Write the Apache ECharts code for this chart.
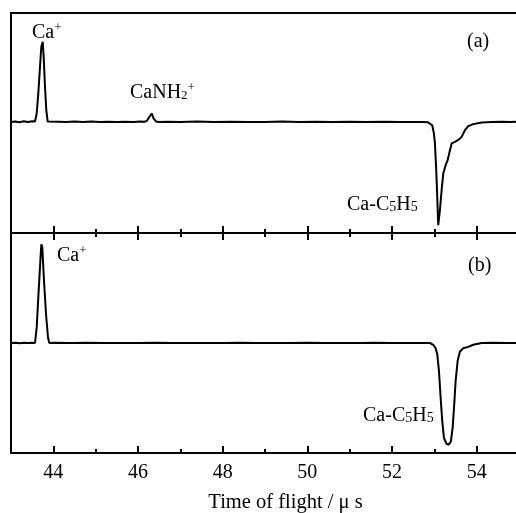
<!DOCTYPE html>
<html>
<head>
<meta charset="utf-8">
<script src="https://cdn.jsdelivr.net/npm/echarts@6/dist/echarts.min.js"></script>
<style>
html,body{margin:0;padding:0;background:#fff;}
#chart{width:516px;height:513px;}
</style>
</head>
<body>
<div id="chart"></div>
<script>
// Panel (a): time of flight (µs) and signal (arb. units)
const timeA = [43.00,43.10,43.20,43.30,43.40,43.50,43.567,43.607,43.645,43.685,43.716,43.749,43.772,43.803,43.834,43.866,43.90,44.10,44.30,44.50,44.70,44.90,45.10,45.30,45.50,45.70,45.90,46.05,46.15,46.205,46.26,46.323,46.37,46.425,46.50,46.70,47.00,47.40,47.80,48.20,48.60,49.00,49.40,49.80,50.20,50.60,51.00,51.40,51.80,52.20,52.50,52.70,52.85,52.896,52.950,52.990,53.014,53.045,53.069,53.092,53.132,53.172,53.211,53.267,53.314,53.369,53.409,53.447,53.487,53.527,53.581,53.644,53.723,53.801,53.919,54.117,54.353,54.60,54.80,55.00];
const signalA = [0.000,0.004,-0.003,0.005,0.000,0.006,0.004,0.076,0.256,0.496,0.676,0.721,0.586,0.316,0.106,0.004,0.000,0.002,0.000,0.004,-0.002,0.003,0.000,0.002,-0.002,0.002,0.000,0.003,0.002,0.008,0.040,0.076,0.030,0.004,0.000,0.002,0.000,0.003,0.000,0.002,-0.002,0.000,0.003,0.000,0.002,0.000,0.001,0.000,0.002,0.000,-0.001,0.000,-0.004,-0.012,-0.030,-0.104,-0.194,-0.435,-0.675,-0.930,-0.795,-0.615,-0.465,-0.390,-0.345,-0.255,-0.194,-0.210,-0.180,-0.194,-0.158,-0.135,-0.075,-0.038,-0.020,-0.005,0.000,0.002,0.000,0.001];

// Panel (b)
const timeB = [43.00,43.10,43.20,43.30,43.40,43.50,43.567,43.607,43.645,43.685,43.716,43.739,43.779,43.827,43.874,43.905,44.00,44.40,44.80,45.20,45.60,46.00,46.40,46.80,47.20,47.60,48.00,48.40,48.80,49.20,49.60,50.00,50.40,50.80,51.20,51.60,52.00,52.40,52.70,52.896,52.974,53.030,53.069,53.109,53.149,53.187,53.227,53.290,53.345,53.392,53.432,53.470,53.503,53.551,53.605,53.683,53.801,53.919,54.117,54.40,54.70,55.00];
const signalB = [0.000,0.003,-0.002,0.002,0.000,0.003,0.000,0.142,0.416,0.690,0.897,0.872,0.568,0.264,0.050,0.000,0.002,0.000,0.002,-0.001,0.001,0.000,0.002,0.000,0.001,-0.001,0.000,0.002,0.000,0.001,0.000,0.002,0.000,0.001,0.000,0.002,0.000,0.001,0.000,0.000,-0.016,-0.047,-0.101,-0.254,-0.498,-0.710,-0.863,-0.918,-0.923,-0.893,-0.771,-0.558,-0.345,-0.162,-0.077,-0.047,-0.035,-0.016,0.000,0.002,0.000,0.001];

const xMin = 43, xMax = 55;
const majorTicks = [44, 46, 48, 50, 52, 54];
const minorTicks = [43, 45, 47, 49, 51, 53, 55];
const axisTitle = 'Time of flight / \u03bc s';

const serif = "'Liberation Serif','DejaVu Serif',serif";
const zip = (xs, ys) => xs.map((x, i) => [x, ys[i]]);

const chart = echarts.init(document.getElementById('chart'), null, {renderer: 'canvas'});

const axisLineOn = {show: true, onZero: false, lineStyle: {color: '#000', width: 2}};
function xAx(grid, pos, opts) {
  const o = {
    type: 'value', gridIndex: grid, position: pos, min: xMin, max: xMax,
    splitLine: {show: false}, minorTick: {show: false},
    axisLine: axisLineOn,
    axisTick: {show: false},
    axisLabel: {show: false}
  };
  return Object.assign(o, opts || {});
}
const majorTick = {show: true, inside: true, length: 7, customValues: majorTicks, lineStyle: {color: '#000', width: 2}};
const minorTickAx = {show: true, inside: true, length: 4, customValues: minorTicks, lineStyle: {color: '#000', width: 2}};

const rich = {
  n: {fontFamily: serif, fontSize: 20, lineHeight: 22, color: '#000'},
  sup: {fontFamily: serif, fontSize: 13, lineHeight: 22, color: '#000', padding: [0,0,10,0]},
  sub: {fontFamily: serif, fontSize: 13, lineHeight: 22, color: '#000', padding: [6,0,0,0]},
  sub5: {fontFamily: serif, fontSize: 14, lineHeight: 22, color: '#000', padding: [5,0,0,0]}
};

function label(x, y, text) {
  return {type: 'text', x: x, y: y, style: {text: text, rich: rich, fill: '#000', font: '20px ' + serif, align: 'left', verticalAlign: 'top'}};
}

chart.setOption({
  animation: false,
  backgroundColor: '#fff',
  grid: [
    {left: 11, top: 13, width: 508, height: 220, containLabel: false, outerBoundsMode: 'none'},
    {left: 11, top: 233, width: 508, height: 220, containLabel: false, outerBoundsMode: 'none'}
  ],
  xAxis: [
    xAx(0, 'bottom', {axisTick: majorTick}),
    xAx(0, 'bottom', {axisTick: minorTickAx}),
    xAx(0, 'top'),
    xAx(1, 'top', {axisTick: majorTick}),
    xAx(1, 'top', {axisTick: minorTickAx}),
    xAx(1, 'bottom', {axisTick: minorTickAx}),
    xAx(1, 'bottom', {
      axisTick: majorTick,
      axisLabel: {show: true, customValues: majorTicks, color: '#000', fontFamily: serif, fontSize: 20, margin: 10},
      name: axisTitle, nameLocation: 'middle', nameGap: 39,
      nameTextStyle: {color: '#000', fontFamily: serif, fontSize: 20.5, padding: [0, 0, 0, 41]}
    })
  ],
  yAxis: [
    {type: 'value', gridIndex: 0, min: -1, max: 0.98, axisLine: axisLineOn, axisTick: {show: false}, axisLabel: {show: false}, splitLine: {show: false}},
    {type: 'value', gridIndex: 1, min: -1, max: 1, axisLine: axisLineOn, axisTick: {show: false}, axisLabel: {show: false}, splitLine: {show: false}}
  ],
  series: [
    {type: 'line', xAxisIndex: 0, yAxisIndex: 0, data: zip(timeA, signalA), showSymbol: false, symbol: 'none', lineStyle: {color: '#000', width: 2}, silent: true},
    {type: 'line', xAxisIndex: 6, yAxisIndex: 1, data: zip(timeB, signalB), showSymbol: false, symbol: 'none', lineStyle: {color: '#000', width: 2}, silent: true}
  ],
  graphic: [
    label(32, 22, '{n|Ca}{sup|+}'),
    label(130, 82, '{n|CaNH}{sub|2}{sup|+}'),
    label(467, 31, '{n|(a)}'),
    label(347, 194, '{n|Ca-C}{sub5|5}{n|H}{sub5|5}'),
    label(57, 245, '{n|Ca}{sup|+}'),
    label(468, 255, '{n|(b)}'),
    label(363, 405, '{n|Ca-C}{sub5|5}{n|H}{sub5|5}')
  ]
});
</script>
</body>
</html>
